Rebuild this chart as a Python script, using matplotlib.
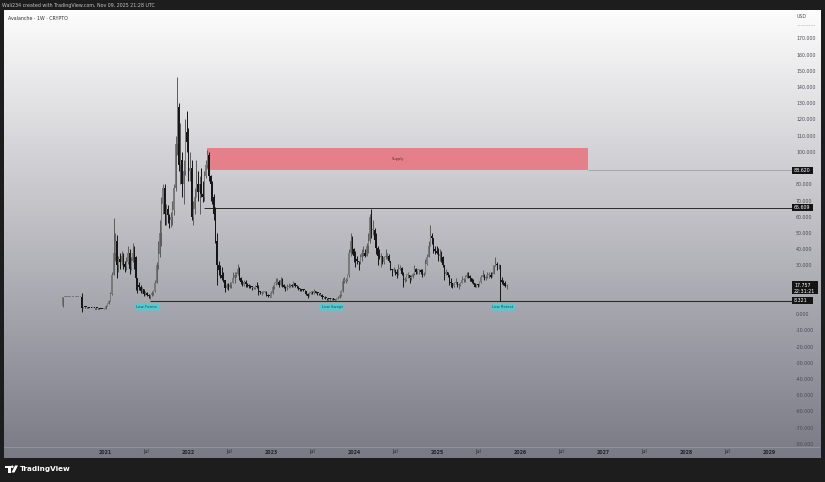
import numpy as np
import pandas as pd
import matplotlib
matplotlib.use("Agg")
import matplotlib.pyplot as plt
import matplotlib.dates as mdates
from matplotlib.transforms import Affine2D, blended_transform_factory
from matplotlib.patches import Rectangle, Polygon, Circle
from matplotlib.lines import Line2D

# weekly candles (USD); open = previous close
first_open = 5.0
last_week = "2025-11-03"

close_2020 = [10.4, 10.4, 10.4, 10.4, 10.4, 10.4, 10.4, 10.4, 10.4, 10.4, 10.4, 10.4,
              4.0, 4.4, 4.2, 4.0, 3.9, 3.8, 3.7, 3.7, 3.6, 3.5, 3.4, 3.3, 3.2, 3.1, 3.3]
high_2020 = [10.6, 10.5, 10.5, 10.5, 10.5, 10.5, 10.5, 10.5, 10.5, 10.5, 10.5, 10.5,
             12.8, 4.6, 4.5, 4.3, 4.1, 4.0, 3.9, 3.9, 3.8, 3.7, 3.6, 3.5, 3.4, 3.3, 3.5]
low_2020 = [4.3, 10.3, 10.3, 10.3, 10.3, 10.3, 10.3, 10.3, 10.3, 10.3, 10.3, 10.3,
            1.5, 3.9, 4.0, 3.8, 3.7, 3.6, 3.5, 3.5, 3.4, 3.3, 3.2, 3.1, 3.0, 2.9, 3.0]

close_2021 = [5.0, 6.3, 8.2, 12.5, 24, 38, 45, 30, 34, 32, 36, 31, 29, 32, 38, 28, 33,
              38, 35, 22, 18, 17, 14, 15.5, 12.5, 13, 12, 11, 11.5, 13, 14, 19, 30, 37, 50,
              68, 78, 62, 65, 61, 58, 60, 64, 78, 105, 128, 92, 95, 80, 88, 112, 106]
high_2021 = [5.6, 7.0, 9.0, 13.5, 26, 59, 50, 49, 36, 38, 39, 38, 33, 35, 42, 40, 35,
             44, 42, 36, 22, 20, 18, 17, 15.8, 14.5, 13.5, 12.5, 12, 14, 15, 21, 32, 45, 58,
             72, 80, 80, 68, 67, 62, 63, 70, 80, 110, 146, 130, 118, 100, 95, 120, 125]
low_2021 = [3.3, 4.8, 6.0, 7.8, 12, 24, 33, 22, 26, 28, 30, 28, 26, 27, 31, 25, 27,
            32, 28, 15, 13, 15, 13, 13, 11, 11.5, 11, 10, 9.3, 11, 12, 13.5, 19, 28, 35,
            42, 62, 55, 55, 56, 53, 54, 55, 61, 76, 98, 88, 80, 72, 68, 86, 100]

close_2022 = [88, 90, 60, 65, 72, 80, 75, 80, 74, 72, 85, 92, 98, 85, 80, 72, 62,
              45, 30, 27, 24, 22, 21, 16, 18, 16.5, 18, 19, 22, 24, 25, 28, 22, 20, 18,
              20, 18.5, 17.5, 17, 16.5, 16, 16.2, 17.5, 16.5, 13.5, 13, 13.2, 13.5,
              13.8, 11.8, 11.2, 10.8]
high_2022 = [115, 100, 95, 70, 78, 95, 88, 85, 90, 82, 88, 95, 101, 100, 86, 82, 74,
             66, 50, 33, 30, 29, 26, 21, 19.5, 19, 20, 20, 26, 26, 26, 31, 29, 23, 21,
             21, 21, 19, 18.5, 18, 17, 17, 18, 20, 18, 14.5, 14, 14.5,
             14.5, 14.5, 12.2, 11.8]
low_2022 = [82, 82, 58, 55, 62, 72, 70, 62, 72, 69, 70, 84, 90, 82, 70, 68, 58,
            44, 18, 24, 22, 21, 20, 13.5, 15.5, 15, 16, 16, 19, 19, 23, 24, 21, 18.5, 17.5,
            17.5, 17, 16.5, 16, 16, 15, 15.5, 15.8, 16, 11.5, 12.5, 11.6, 12.8,
            12.8, 11, 10.8, 10.4]

close_2023 = [13, 17, 19, 19.5, 20, 18, 21, 18, 17, 16, 17, 17.5, 17.5, 17, 19.5, 17.5, 17,
              15.5, 15, 14.8, 14.6, 14.2, 12.5, 11.2, 13, 13, 12.8, 14, 13.2, 12.8, 12.4,
              12, 10.5, 10.2, 9.8, 9.4, 9.2, 9.1, 9.3, 9, 8.8, 9.6, 10.2, 11.8,
              14.5, 20.5, 20.5, 21, 24, 38, 45, 40]
high_2023 = [14, 18, 20, 22, 22, 21, 22.8, 22, 18.5, 17.5, 18.5, 19, 18.5, 18.5, 20.5, 19.5, 18,
             17.5, 16, 15.5, 15.2, 15, 14.5, 12.8, 13.5, 14, 14, 15.5, 14.2, 13.5, 13,
             12.6, 12.2, 10.8, 11, 10, 9.6, 9.6, 9.8, 9.8, 9.2, 10, 11.2, 12.5,
             15, 22, 23, 22.5, 25, 40, 50, 48]
low_2023 = [10.6, 12.5, 15.5, 18, 18.5, 17, 17.5, 17, 16, 14, 15, 16, 16.5, 16.5, 17, 17, 16,
            15, 14.5, 14.3, 14, 13.8, 11.5, 10, 11.0, 12.5, 12.2, 12.2, 12.8, 12, 11.8,
            11.6, 9.5, 9.7, 9.4, 9, 8.8, 8.7, 8.9, 8.8, 8.6, 8.7, 9.4, 10,
            11, 13.5, 19, 19.5, 20.5, 23, 36, 37]

close_2024 = [36, 34, 33, 32, 35, 38, 38, 36, 42, 45, 60, 52, 52, 46, 41, 36, 35, 36,
              32, 35, 36, 36, 33, 28, 27, 27, 26, 25, 28, 28.5, 25, 21, 21, 24, 24,
              22, 23, 24.5, 28, 26, 27, 27, 26, 24, 25, 31, 35, 42, 48, 47, 40, 39, 38]
high_2024 = [41, 39, 36, 33, 37, 40, 42, 40, 44, 50, 62, 65, 58, 53, 50, 42, 40, 38,
             36, 36, 40, 38, 37, 33, 28, 29, 28, 28, 31, 30, 29, 26, 23, 25, 26,
             24, 24, 25.5, 30, 28.5, 28, 28, 28, 28, 26, 34, 37, 45, 55, 50, 47, 42, 42]
low_2024 = [32, 29, 31, 27.5, 31, 33, 36, 35, 36, 38, 44, 47, 49, 45, 37, 30, 34, 29,
            31, 31, 34, 34, 32, 27, 23.5, 26, 24, 22, 24, 27, 24, 17, 20, 20.5, 22,
            19.5, 21, 22.5, 24, 24.5, 25, 25, 25, 23, 23.5, 25, 30, 35, 42, 43, 38, 37, 37]

close_2025 = [36, 37, 35, 30, 25, 26, 24, 20, 19, 17.5, 19.5, 20, 18, 18, 19, 21, 21,
              23, 24, 23.5, 22, 20, 19, 17, 18, 17.5, 20, 23, 24, 22, 23, 24, 24, 23,
              25, 30, 31, 30, 30, 21, 20, 19.5, 17.5, 17.757]
high_2025 = [41, 40, 39, 36, 30.5, 28, 26, 24, 22, 19, 20, 22, 20, 19, 20, 23.5, 22,
             24, 26, 26, 24, 22, 21.5, 19, 18.5, 18.5, 20.5, 24, 27, 25, 24, 26, 26, 26,
             26, 30.5, 35, 32, 31, 30, 23, 21, 20.5, 18.5]
low_2025 = [33, 33, 32, 29, 21, 24, 23, 18, 17, 16, 17, 18.5, 17, 15.3, 17.5, 19, 20,
            20, 22.5, 22, 20.5, 19.5, 18.5, 16.5, 16.5, 17, 17.5, 19.5, 23, 21, 21, 22.5, 22, 22.5,
            23, 25, 29.5, 27.5, 28, 8.321, 18.5, 18, 17, 15.5]

# levels and notes
supply_low, supply_high = 88.62, 102.5
supply_start, supply_end = "2022-03-28", "2026-10-26"
range_high, range_high_start = 65.609, "2022-03-14"
range_low, range_low_start = 8.321, "2021-07-19"
note_texts = ["Low Forms", "Low Swept", "Low Retest"]
note_dates = ["2021-07-03", "2023-09-29", "2025-10-18"]
price_tags = [88.620, 65.609, 8.321]
last_price, countdown = 17.757, "22:31:21"
y_ticks = [v for v in range(-80, 171, 10) if v not in (90, 20, 10)]
x_tick_dates = [f"{y}-{m}-01" for y in range(2021, 2030) for m in ("01", "07")][:-1]

closes = np.array(close_2020 + close_2021 + close_2022 + close_2023 + close_2024 + close_2025)
highs = np.array(high_2020 + high_2021 + high_2022 + high_2023 + high_2024 + high_2025)
lows = np.array(low_2020 + low_2021 + low_2022 + low_2023 + low_2024 + low_2025)
opens = np.r_[first_open, closes[:-1]]
weeks = pd.date_range(end=last_week, periods=len(closes), freq="W-MON")
xs = mdates.date2num(weeks)


def d(s):
    return mdates.date2num(pd.Timestamp(s))


W, H = 825, 482
fig = plt.figure(figsize=(W / 100, H / 100), dpi=100, facecolor="#1d1d1d")
pix = Affine2D().scale(1 / W, -1 / H).translate(0, 1) + fig.transFigure


def box(l, t, r, b):
    return [l / W, 1 - b / H, (r - l) / W, (b - t) / H]


# panel gradient
bg = fig.add_axes(box(4, 10, 820, 458))
top = np.array([253, 253, 253]) / 255
bot = np.array([122, 122, 134]) / 255
g = np.linspace(0, 1, 256)[:, None, None]
bg.imshow(top + (bot - top) * g, aspect="auto", extent=[0, 1, 0, 1])
bg.axhline((458 - 447) / 448, color="#9c9ca6", lw=0.5)
bg.axis("off")

ax = fig.add_axes(box(4, 10, 793, 447))
ax.patch.set_alpha(0)
for s in ax.spines.values():
    s.set_visible(False)

px_day = 83 / 365.25
x0 = d("2021-01-01")
ax.set_xlim(x0 - 101 / px_day, x0 + 688 / px_day)
ax.set_ylim(-81.9, 187.5)
xmax = ax.get_xlim()[1]

# candles (flat bodies get a 1 px minimum so they stay visible)
up = closes >= opens
body = closes - opens
body = np.where(np.abs(body) < 0.6, 0.6, body)
ax.vlines(xs, lows, highs, colors=np.where(up, "#5c5c5c", "#151515"), lw=0.7, zorder=3)
ax.bar(xs, body, bottom=opens, width=5.5,
       color=np.where(up, "#7a7a7a", "#151515"), linewidth=0, zorder=3)

# zones and levels
ax.add_patch(Rectangle((d(supply_start), supply_low), d(supply_end) - d(supply_start),
                       supply_high - supply_low, facecolor="#e5808a", edgecolor="none", zorder=2))
ax.text((d(supply_start) + d(supply_end)) / 2, (supply_low + supply_high) / 2, "Supply",
        fontsize=2.6, color="#6a2530", ha="center", va="center", zorder=4)
ax.hlines(supply_low, d(supply_end), xmax, color="#8a8a8a", lw=0.4)
ax.hlines(range_high, d(range_high_start), xmax, color="#2a2a2a", lw=0.7)
ax.hlines(range_low, d(range_low_start), xmax, color="#2a2a2a", lw=0.8)

for txt, dt in zip(note_texts, note_dates):
    ax.text(d(dt), 4.3, txt, fontsize=2.8, color="#17525a", ha="center", va="center",
            bbox=dict(boxstyle="square,pad=0.4", fc="#56c8cf", ec="none"), zorder=5)

# axes labels
ax.yaxis.tick_right()
ax.set_yticks(y_ticks)
ax.set_yticklabels([f"{v:.3f}" for v in y_ticks])
ax.tick_params(axis="y", length=0, pad=2.2, labelsize=3.4, labelcolor="#4a4a55")
ax.set_xticks([d(s) for s in x_tick_dates])
ax.set_xticklabels([s[:4] if s[5:7] == "01" else "Jul" for s in x_tick_dates])
ax.tick_params(axis="x", length=0, pad=1.8, labelsize=3.4, labelcolor="#222226")
for lbl in ax.get_xticklabels():
    if lbl.get_text() != "Jul":
        lbl.set_fontweight("bold")

# price tags on the scale
fd = blended_transform_factory(fig.transFigure, ax.transData)
upp = (187.5 + 81.9) / 437  # value units per pixel
for v in price_tags:
    ax.add_patch(Rectangle((792 / W, v - 3.5 * upp), 21 / W, 7 * upp, transform=fd,
                           facecolor="#141414", edgecolor="none", clip_on=False, zorder=6))
    ax.text(794 / W, v, f"{v:.3f}", transform=fd, fontsize=3.4, color="white",
            va="center", ha="left", zorder=7)
ax.add_patch(Rectangle((792 / W, last_price - 8.6 * upp), 26 / W, 13 * upp, transform=fd,
                       facecolor="#141414", edgecolor="none", clip_on=False, zorder=6))
ax.text(794 / W, last_price, f"{last_price:.3f}", transform=fd, fontsize=3.4,
        color="white", va="center", ha="left", zorder=7)
ax.text(794 / W, last_price - 5.8 * upp, countdown, transform=fd, fontsize=3.4,
        color="white", va="center", ha="left", zorder=7)

# frame texts
fig.text(2, 5, "Wali234 created with TradingView.com, Nov 09, 2025 21:28 UTC", transform=pix,
         fontsize=3.4, color="#c4c4c4", va="center", ha="left")
fig.text(8, 18, "Avalanche · 1W · CRYPTO", transform=pix, fontsize=3.4, color="#303030",
         va="center", ha="left")
fig.text(797, 17, "USD", transform=pix, fontsize=3.4, color="#505058", va="center", ha="left")
fig.add_artist(Line2D([797, 815], [25, 25], transform=pix, color="#9a9a9a", lw=0.4,
                      linestyle=(0, (1.5, 1.5))))

# TradingView logo
fig.add_artist(Polygon([(5, 465.5), (10.5, 465.5), (10.5, 472.5), (8, 472.5), (8, 468), (5, 468)],
                       closed=True, transform=pix, facecolor="white", edgecolor="none"))
fig.add_artist(Circle((12.3, 466.8), 1.3, transform=pix, facecolor="white", edgecolor="none"))
fig.add_artist(Polygon([(15, 465.5), (18, 465.5), (14.5, 472.5), (11.5, 472.5)],
                       closed=True, transform=pix, facecolor="white", edgecolor="none"))
fig.text(20, 469, "TradingView", transform=pix, fontsize=5.2, fontweight="bold",
         color="white", va="center", ha="left")

fig.savefig("out.png", dpi=100, facecolor=fig.get_facecolor())
